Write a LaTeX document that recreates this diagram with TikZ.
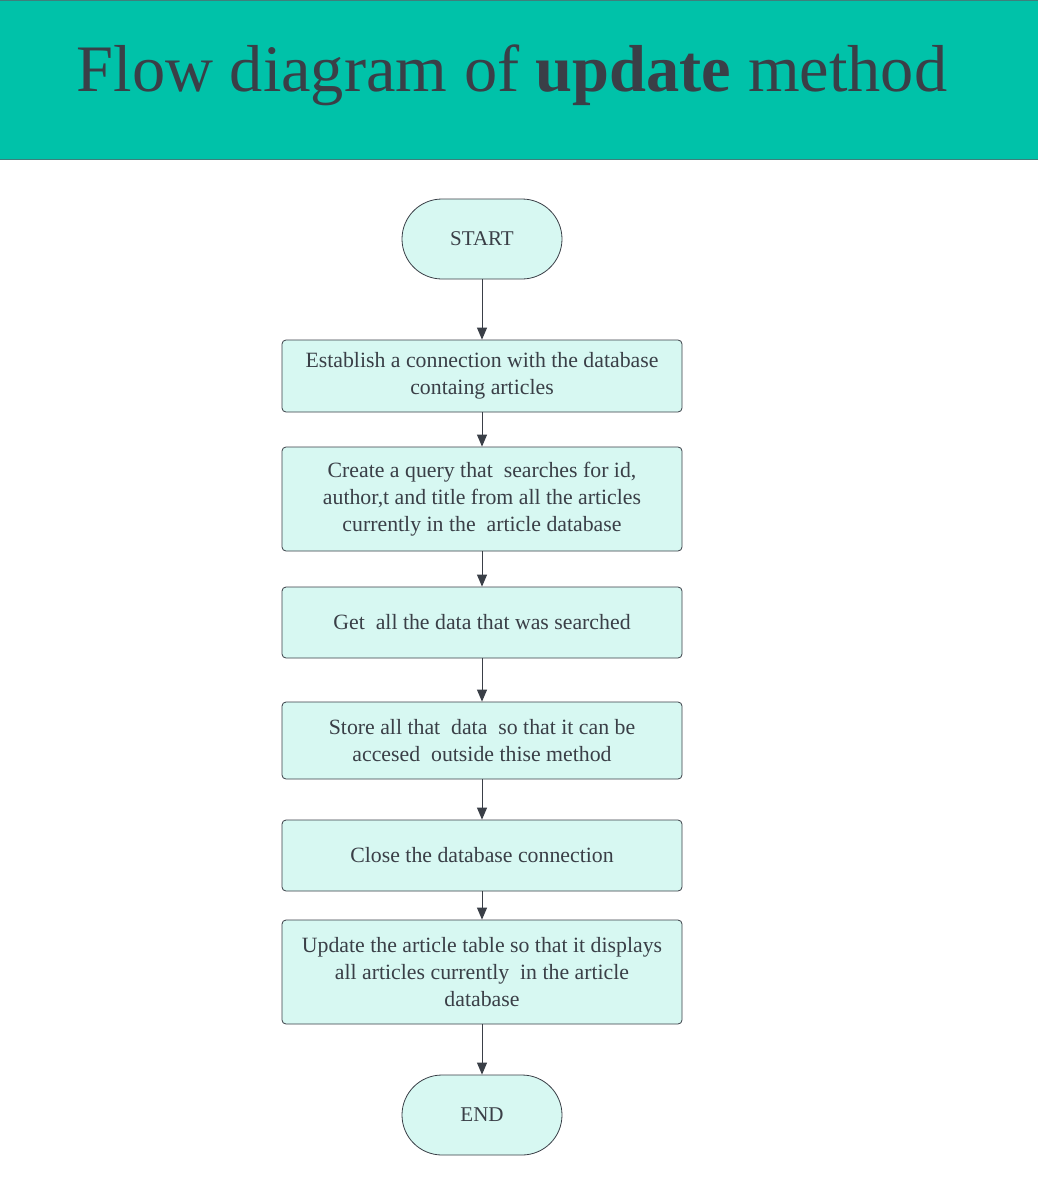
\documentclass[tikz,border=0pt]{standalone}
\usepackage{fontspec}
\setmainfont{Liberation Serif}
\usetikzlibrary{arrows.meta}
\definecolor{headteal}{HTML}{00C2A9}
\definecolor{headline}{HTML}{3E7F7C}
\definecolor{boxfill}{HTML}{D7F8F2}
\definecolor{ink}{HTML}{3A3F47}
\begin{document}
\begin{tikzpicture}[x=1pt,y=-1pt,
  stepbox/.style={draw=ink, line width=0.8pt, fill=boxfill, rounded corners=4pt,
    minimum width=400pt, align=center, text=ink, inner sep=0pt,
    font=\fontsize{21.8}{27}\selectfont},
  termbox/.style={draw=ink, line width=0.8pt, fill=boxfill, rounded corners=40pt,
    minimum width=160pt, minimum height=80pt, text=ink, inner sep=0pt,
    font=\fontsize{21}{27}\selectfont},
  flow/.style={draw=ink, line width=1pt, -{Triangle[length=12pt,width=10pt]}}]
\useasboundingbox (0,0) rectangle (1038,1196);
\fill[white] (0,0) rectangle (1038,1196);
\fill[headteal] (0,0) rectangle (1038,160);
\draw[headline, line width=1.2pt] (0,0.6) -- (1038,0.6);
\draw[headline, line width=1.5pt] (0,159.5) -- (1038,159.5);
\node[text=ink, font=\fontsize{66.4}{80}\selectfont, anchor=base] (title) at (512,92)
  {Flow diagram of \textbf{update} method};

\node[termbox] (start) at (482,239) {START};
\node[stepbox, minimum height=72pt] (s1) at (482,376)
  {Establish a connection with the database\\containg articles};
\node[stepbox, minimum height=104pt] (s2) at (482,499)
  {Create a query that\ \ searches for id,\\author,t and title from all the articles\\currently in the\ \ article database};
\node[stepbox, minimum height=71pt] (s3) at (482,622.5)
  {Get\ \ all the data that was searched};
\node[stepbox, minimum height=77pt] (s4) at (482,740.5)
  {Store all that\ \ data\ \ so that it can be\\accesed\ \ outside thise method};
\node[stepbox, minimum height=71pt] (s5) at (482,855.5)
  {Close the database connection};
\node[stepbox, minimum height=104pt] (s6) at (482,972)
  {Update the article table so that it displays\\all articles currently\ \ in the article\\database};
\node[termbox] (end) at (482,1115) {END};

\draw[flow] (start) -- (s1);
\draw[flow] (s1) -- (s2);
\draw[flow] (s2) -- (s3);
\draw[flow] (s3) -- (s4);
\draw[flow] (s4) -- (s5);
\draw[flow] (s5) -- (s6);
\draw[flow] (s6) -- (end);
\end{tikzpicture}
\end{document}
